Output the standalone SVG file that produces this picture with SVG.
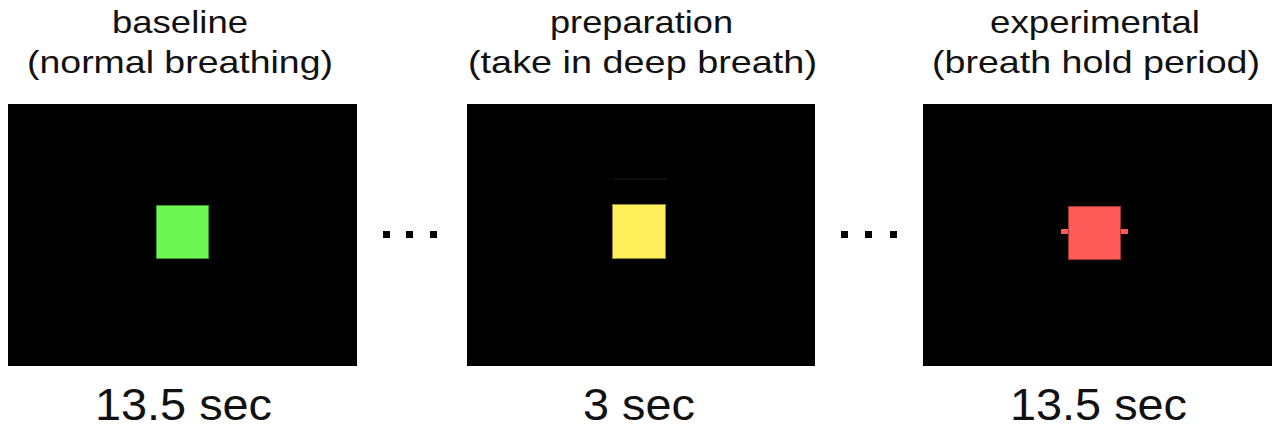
<svg xmlns="http://www.w3.org/2000/svg" width="1282" height="428" viewBox="0 0 1282 428">
  <style>
    .screen { fill: #000; }
    .label { font-family: "Liberation Sans", Arial, sans-serif; font-size: 32px; fill: #111; text-anchor: middle; }
    .dur { font-family: "Liberation Sans", Arial, sans-serif; font-size: 44px; fill: #111; text-anchor: middle; }
    .cue { stroke-width: 1; }
    .dot { fill: #000; }
  </style>
  <rect width="1282" height="428" fill="#fff"/>

  <g id="baseline">
    <text class="label" x="180" y="33" textLength="136" lengthAdjust="spacingAndGlyphs">baseline</text>
    <text class="label" x="180" y="73" textLength="306" lengthAdjust="spacingAndGlyphs">(normal breathing)</text>
    <rect class="screen" x="8" y="104" width="349" height="262"/>
    <rect class="cue" x="156.5" y="205.5" width="52" height="53" fill="#6cf752" stroke="#3f9a30"/>
    <text class="dur" x="183.5" y="420" textLength="177" lengthAdjust="spacingAndGlyphs">13.5 sec</text>
  </g>

  <g id="preparation">
    <text class="label" x="641.5" y="33" textLength="183" lengthAdjust="spacingAndGlyphs">preparation</text>
    <text class="label" x="642.5" y="73" textLength="349" lengthAdjust="spacingAndGlyphs">(take in deep breath)</text>
    <rect class="screen" x="467" y="104" width="348" height="262"/>
    <line x1="614" y1="179" x2="667" y2="179" stroke="#1c1c1c" stroke-width="1"/>
    <rect class="cue" x="612.5" y="204.5" width="53" height="54" fill="#fdf05a" stroke="#8f8630"/>
    <text class="dur" x="639" y="420" textLength="112" lengthAdjust="spacingAndGlyphs">3 sec</text>
  </g>

  <g id="experimental">
    <text class="label" x="1095" y="33" textLength="210" lengthAdjust="spacingAndGlyphs">experimental</text>
    <text class="label" x="1096" y="73" textLength="328" lengthAdjust="spacingAndGlyphs">(breath hold period)</text>
    <rect class="screen" x="923" y="104" width="349" height="262"/>
    <rect x="1061" y="229" width="67" height="5" fill="#fe5a58"/>
    <rect class="cue" x="1068.5" y="206.5" width="52" height="53" fill="#fe5a58" stroke="#9a3533"/>
    <text class="dur" x="1098.5" y="420" textLength="177" lengthAdjust="spacingAndGlyphs">13.5 sec</text>
  </g>

  <g id="connectors">
    <rect class="dot" x="383" y="231" width="7" height="7"/>
    <rect class="dot" x="406" y="231" width="7" height="7"/>
    <rect class="dot" x="430" y="231" width="7" height="7"/>
    <rect class="dot" x="841" y="231" width="7" height="7"/>
    <rect class="dot" x="865" y="231" width="7" height="7"/>
    <rect class="dot" x="890" y="231" width="7" height="7"/>
  </g>
</svg>
